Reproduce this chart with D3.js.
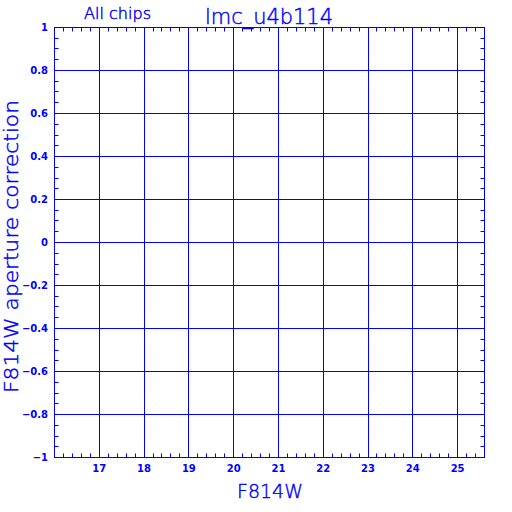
<!DOCTYPE html>
<html>
<head>
<meta charset="utf-8">
<script src="https://cdn.jsdelivr.net/npm/d3@7"></script>
<style>
  body { margin: 0; background: #fff; }
  svg { display: block; }
</style>
</head>
<body>
<div id="chart"></div>
<script>
// chart values
var xDomain = [16, 25.6];
var yDomain = [-1, 1];
var xTicks = [17, 18, 19, 20, 21, 22, 23, 24, 25];
var yTicks = [-1, -0.8, -0.6, -0.4, -0.2, 0, 0.2, 0.4, 0.6, 0.8, 1];
var xMinorStep = 0.2;
var yMinorStep = 0.05;
var titleText = "lmc_u4b114";
var subtitleText = "All chips";
var xLabel = "F814W";
var yLabel = "F814W aperture correction";

var width = 512, height = 512;
var blue = "#0000ff";
var plotL = 54.5, plotR = 484.5, plotT = 27.5, plotB = 457.5;
var thinFont = "DejaVu Sans";

var svg = d3.select("#chart")
  .append("svg")
  .attr("width", width)
  .attr("height", height);

var x = d3.scaleLinear().domain(xDomain).range([plotL, plotR]);
var y = d3.scaleLinear().domain(yDomain).range([plotB, plotT]);

var px = (v) => Math.round(x(v) - 0.5) + 0.5;
var py = (v) => Math.round(y(v) - 0.5) + 0.5;

// gridlines
var grid = svg.append("g").attr("stroke", blue).attr("stroke-width", 1);
grid.append("g").selectAll("line")
  .data(xTicks)
  .join("line")
  .attr("x1", px)
  .attr("x2", px)
  .attr("y1", plotT)
  .attr("y2", plotB);
grid.append("g").selectAll("line")
  .data(yTicks.slice(1, -1))
  .join("line")
  .attr("y1", py)
  .attr("y2", py)
  .attr("x1", plotL)
  .attr("x2", plotR);

// minor ticks (inward on all four sides)
var xMinor = d3.range(Math.round((xDomain[1] - xDomain[0]) / xMinorStep) + 1)
  .map((i) => xDomain[0] + i * xMinorStep)
  .filter((v) => Math.abs(v - Math.round(v)) > 1e-6);
var yMinor = d3.range(Math.round((yDomain[1] - yDomain[0]) / yMinorStep) + 1)
  .map((i) => yDomain[0] + i * yMinorStep)
  .filter((v) => Math.abs(v * 5 - Math.round(v * 5)) > 1e-6);

var ticks = svg.append("g").attr("stroke", blue).attr("stroke-width", 1);
[[plotT, 4], [plotB, -4]].forEach(([yy, len]) => {
  ticks.append("g").selectAll("line")
    .data(xMinor)
    .join("line")
    .attr("x1", px)
    .attr("x2", px)
    .attr("y1", yy)
    .attr("y2", yy + len);
});
[[plotL, 4], [plotR, -4]].forEach(([xx, len]) => {
  ticks.append("g").selectAll("line")
    .data(yMinor)
    .join("line")
    .attr("y1", py)
    .attr("y2", py)
    .attr("x1", xx)
    .attr("x2", xx + len);
});

// frame
svg.append("rect")
  .attr("x", plotL)
  .attr("y", plotT)
  .attr("width", plotR - plotL)
  .attr("height", plotB - plotT)
  .attr("fill", "none")
  .attr("stroke", blue)
  .attr("stroke-width", 1);

// tick labels
var fmt = (d) => (d < 0 ? "\u2212" : "") + String(Math.abs(d));
svg.append("g").selectAll("text")
  .data(xTicks)
  .join("text")
  .attr("x", (d) => x(d))
  .attr("y", 471.5)
  .attr("text-anchor", "middle")
  .attr("font-family", "DejaVu Sans")
  .attr("font-weight", "bold")
  .attr("font-size", 10)
  .attr("fill", blue)
  .text(fmt);

svg.append("g").selectAll("text")
  .data(yTicks)
  .join("text")
  .attr("x", 48)
  .attr("y", (d) => y(d) + 3.5)
  .attr("text-anchor", "end")
  .attr("font-family", "DejaVu Sans")
  .attr("font-weight", "bold")
  .attr("font-size", 10)
  .attr("fill", blue)
  .text(fmt);

// titles (thin stroked text, like the vector font)
function thinText(sel) {
  return sel
    .attr("font-family", thinFont)
    .attr("font-weight", 200)
    .attr("fill", blue)
    .attr("stroke", blue)
    .attr("stroke-width", 0.45)
    .attr("lengthAdjust", "spacingAndGlyphs");
}

svg.append("text")
  .attr("x", 205)
  .attr("y", 24)
  .attr("textLength", 128)
  .attr("font-size", 22)
  .call(thinText)
  .text(titleText);

svg.append("text")
  .attr("x", 84)
  .attr("y", 19)
  .attr("textLength", 67)
  .attr("font-size", 15)
  .call(thinText)
  .text(subtitleText);

svg.append("text")
  .attr("x", 237)
  .attr("y", 498)
  .attr("textLength", 66)
  .attr("font-size", 20)
  .call(thinText)
  .text(xLabel);

svg.append("text")
  .attr("transform", "translate(17.5,393) rotate(-90)")
  .attr("textLength", 293)
  .attr("font-size", 20)
  .call(thinText)
  .text(yLabel);
</script>
</body>
</html>
